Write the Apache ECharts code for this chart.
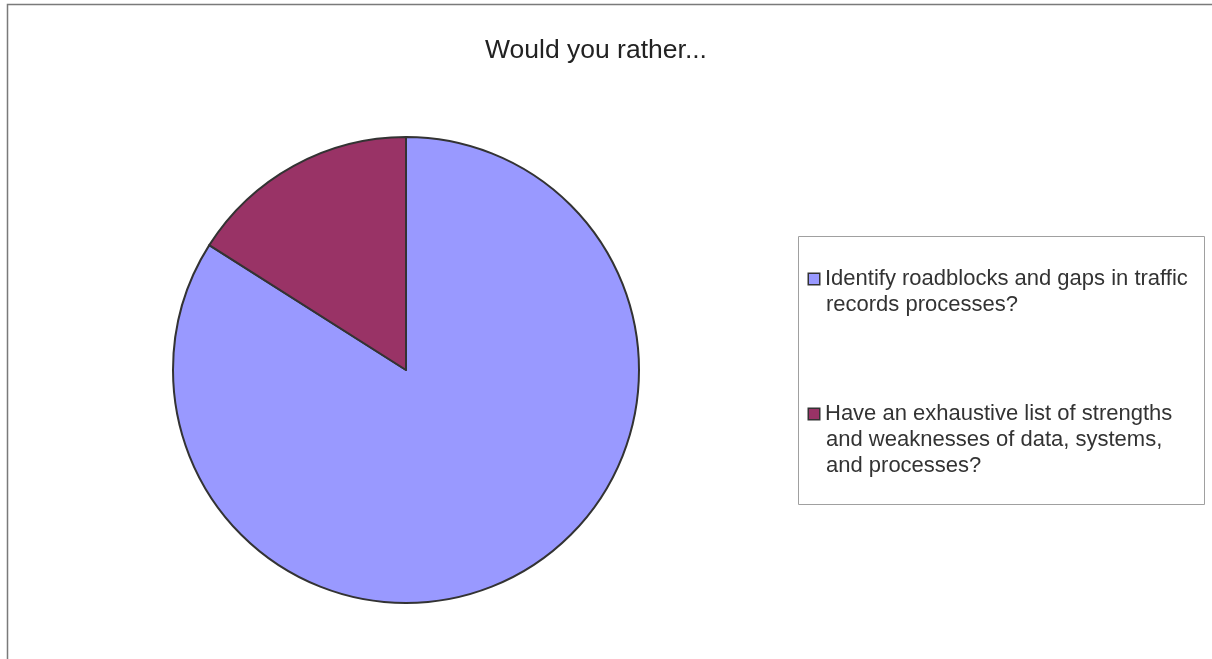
<!DOCTYPE html>
<html>
<head>
<meta charset="utf-8">
<script src="https://cdn.jsdelivr.net/npm/echarts@6/dist/echarts.min.js"></script>
<style>
html,body{margin:0;padding:0;background:#fff;}
#chart{width:1212px;height:659px;}
</style>
</head>
<body>
<div id="chart"></div>
<script>
const titleText = 'Would you rather...';
const categories = [
  'Identify roadblocks and gaps in traffic\nrecords processes?',
  'Have an exhaustive list of strengths\nand weaknesses of data, systems,\nand processes?'
];
const values = [84, 16];
const colors = ['#9999FF', '#993366'];

const chart = echarts.init(document.getElementById('chart'));
const font = '"Liberation Sans", Arial, sans-serif';
const rich = {
  g: { width: 6 },
  sp: { width: 17 },
  t: { fontFamily: font, fontSize: 22, lineHeight: 26, color: '#333333' }
};
colors.forEach((c, i) => {
  rich['sq' + i] = { width: 10, height: 10, backgroundColor: c, borderColor: '#333333', borderWidth: 1.5 };
});
chart.setOption({
  backgroundColor: '#ffffff',
  animation: false,
  title: {
    text: titleText,
    left: 591,
    top: 32,
    textAlign: 'center',
    textStyle: { fontFamily: font, fontSize: 26.5, fontWeight: 'normal', color: '#222222' }
  },
  graphic: [
    { type: 'rect', shape: { x: 7.5, y: 4.5, width: 1230, height: 700 },
      style: { fill: 'none', stroke: '#7a7a7a', lineWidth: 1.5 }, silent: true },
    { type: 'rect', shape: { x: 798.5, y: 236.5, width: 406, height: 268 },
      style: { fill: '#ffffff', stroke: '#a0a0a0', lineWidth: 1 }, silent: true, z: -1 }
  ],
  legend: {
    orient: 'vertical',
    left: 804,
    top: 266,
    padding: 0,
    itemGap: 83,
    itemWidth: 0,
    itemHeight: 0,
    icon: 'rect',
    itemStyle: { opacity: 0, borderWidth: 0 },
    textStyle: { fontFamily: font, fontSize: 22, lineHeight: 26, color: '#333333', rich: rich },
    formatter: function (name) {
      const idx = categories.indexOf(name);
      return name.split('\n').map((line, k) =>
        (k === 0 ? '{sq' + idx + '|}{g|}' : '{sp|}') + '{t|' + line + '}'
      ).join('\n');
    },
    data: categories
  },
  series: [{
    type: 'pie',
    center: [406, 370],
    radius: 233,
    startAngle: 90,
    clockwise: true,
    label: { show: false },
    labelLine: { show: false },
    emphasis: { disabled: true },
    itemStyle: { borderColor: '#333333', borderWidth: 2 },
    data: categories.map((c, i) => ({ name: c, value: values[i], itemStyle: { color: colors[i] } }))
  }]
});
</script>
</body>
</html>
